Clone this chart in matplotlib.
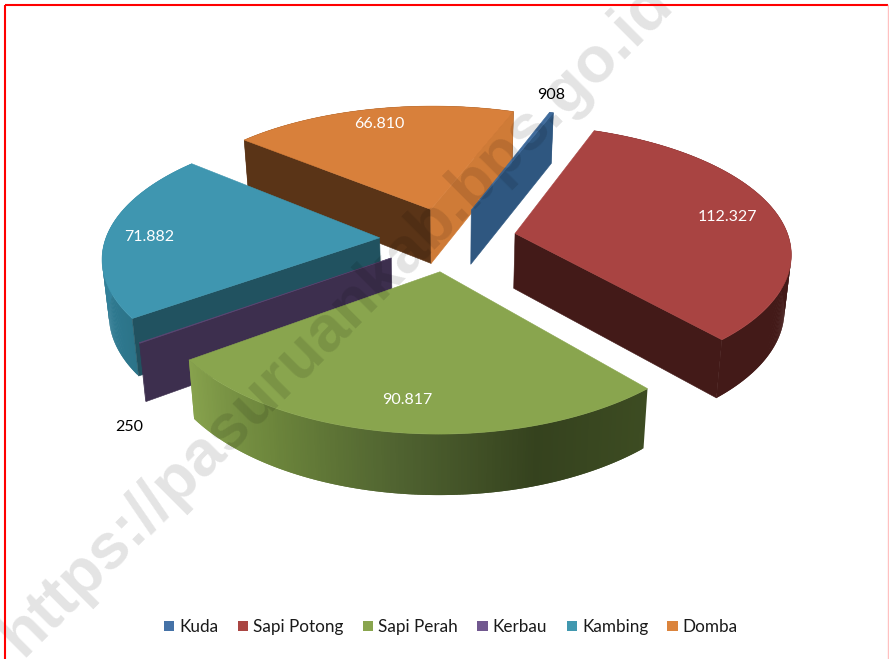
"""
Pie 3D populasi ternak, digambar sendiri dengan proyeksi perspektif sederhana
"""
import numpy as np
import matplotlib
matplotlib.use('Agg')
import matplotlib.pyplot as plt
from matplotlib.colors import LinearSegmentedColormap
from matplotlib.patches import Polygon, Patch

plt.rcParams['font.family'] = ['Lato', 'DejaVu Sans']

categories = ['Kuda', 'Sapi Potong', 'Sapi Perah', 'Kerbau', 'Kambing', 'Domba']
values = [908, 112327, 90817, 250, 71882, 66810]

top_colors = ['#3f6b9c', '#a94442', '#89a54e', '#5a4672', '#3f96b0', '#d8803b']
legend_colors = ['#4572a7', '#aa4643', '#89a54e', '#71588f', '#4198af', '#db843d']
# warna dinding potongan (sudut awal, sudut akhir) dan dinding luar
start_faces = ['#2f5780', '#431a18', '#6f8a3e', '#3d2f4e', '#215260', '#5a3417']
end_faces = ['#2f5780', '#431a18', '#35421e', '#3d2f4e', '#215260', '#cf7b37']
outer_faces = [
    ['#2f5780', '#2f5780'],
    ['#431a18', '#431a18'],
    ['#3d4c22', '#35421e', '#4f6230', '#6b843b', '#87a24d'],
    ['#3d2f4e', '#3d2f4e'],
    ['#2c7489', '#3485a0', '#3a8ea8'],
    ['#5a3417', '#5a3417'],
]
label_colors = ['black', 'white', 'white', 'black', 'white', 'white']
label_xy = [(551, 95), (727, 217), (407, 400), (129, 427), (149, 237), (379, 124)]
draw_order = [5, 0, 4, 3, 1, 2]

FIRST_ANGLE = 20.0
EXPLODE = 0.25
CX, CY, RX, RY, H, K, KX = 448.0, 239.0, 274.0, 127.0, 55.0, 0.15, 0.135


def project(x, y, z):
    w = 1.0 / (1.0 - K * y)
    wx = 1.0 / (1.0 - KX * y)
    sx = CX + RX * x * wx * (1 - 0.02 * z)
    sy = CY + RY * y * w + H * z * w ** 0.5
    return sx, sy


def ring(a, ox, oy, z):
    rad = np.radians(a)
    return project(ox + np.sin(rad), oy - np.cos(rad), z)


def face_visible(apex, rim, mid_rim):
    """Dinding terlihat kalau permukaan atas ada di sisi atas garis apex-rim"""
    ex, ey = rim[0] - apex[0], rim[1] - apex[1]
    side_top = ex * (mid_rim[1] - apex[1]) - ey * (mid_rim[0] - apex[0])
    side_down = ex * 1.0
    return side_top * side_down < 0


fig = plt.figure(figsize=(8.89, 6.59), dpi=100)
ax = fig.add_axes([0, 0, 1, 1])
ax.set_xlim(0, 889)
ax.set_ylim(659, 0)
ax.axis('off')

total = float(sum(values))
sweeps = [v / total * 360.0 for v in values]
starts = FIRST_ANGLE + np.concatenate([[0], np.cumsum(sweeps)[:-1]])

for z_base, i in enumerate(draw_order):
    a0, a1 = starts[i], starts[i] + sweeps[i]
    mid = np.radians((a0 + a1) / 2)
    ox, oy = EXPLODE * np.sin(mid), -EXPLODE * np.cos(mid)
    zo = 10 + z_base
    apex_t, apex_b = project(ox, oy, 0), project(ox, oy, 1)
    mid_rim = ring((a0 + a1) / 2, ox, oy, 0)

    # dinding luar, gradasi mengikuti sudut; tiap potongan menimpa sambungan sebelumnya
    cmap = LinearSegmentedColormap.from_list('side%d' % i, outer_faces[i])
    steps = max(int(sweeps[i] * 2), 1)
    edges = np.linspace(a0, a1, steps + 1)
    for j in range(steps):
        end = edges[min(j + 2, steps)]
        pts = [ring(edges[j], ox, oy, 0), ring(end, ox, oy, 0),
               ring(end, ox, oy, 1), ring(edges[j], ox, oy, 1)]
        col = cmap(j / max(steps - 1, 1))
        ax.add_patch(Polygon(pts, closed=True, facecolor=col, edgecolor='none', zorder=zo))

    # dinding potongan
    for a, col in ((a0, start_faces[i]), (a1, end_faces[i])):
        if not face_visible(apex_t, ring(a, ox, oy, 0), mid_rim):
            continue
        pts = [apex_t, ring(a, ox, oy, 0), ring(a, ox, oy, 1), apex_b]
        ax.add_patch(Polygon(pts, closed=True, facecolor=col, edgecolor=col, lw=0.4, zorder=zo))

    # permukaan atas
    arc = [ring(a, ox, oy, 0) for a in np.linspace(a0, a1, max(steps, 2) + 1)]
    ax.add_patch(Polygon([apex_t] + arc, closed=True, facecolor=top_colors[i],
                         edgecolor=top_colors[i], lw=0.4, zorder=zo))

for i, v in enumerate(values):
    ax.text(label_xy[i][0], label_xy[i][1], f'{v:,}'.replace(',', '.'), color=label_colors[i],
            fontsize=11.5, ha='center', va='center', zorder=30)

handles = [Patch(facecolor=c, edgecolor='none') for c in legend_colors]
ax.legend(handles, categories, loc='center', bbox_to_anchor=(451 / 889, 1 - 627 / 659), ncol=6,
          frameon=False, fontsize=12.3, handlelength=0.6, handleheight=0.6,
          handletextpad=0.3, columnspacing=1.13, labelcolor='#1a1a1a')

# watermark
ax.text(22, 658, 'https://pasuruankab.bps.go.id', rotation=45, rotation_mode='anchor',
        ha='left', va='baseline', fontsize=46.5, fontweight='bold', family='Liberation Sans',
        color='black', alpha=0.11, zorder=40, clip_on=True)

# bingkai merah
ax.plot([5, 5], [659, 5], color='#ff0000', lw=1.5, zorder=50, solid_capstyle='butt')
ax.plot([5, 888], [5, 5], color='#ff0000', lw=1.5, zorder=50, solid_capstyle='butt')
ax.plot([888, 888], [5, 659], color='#ffc0c0', lw=1.0, zorder=50)

fig.savefig('out.png', dpi=100)
